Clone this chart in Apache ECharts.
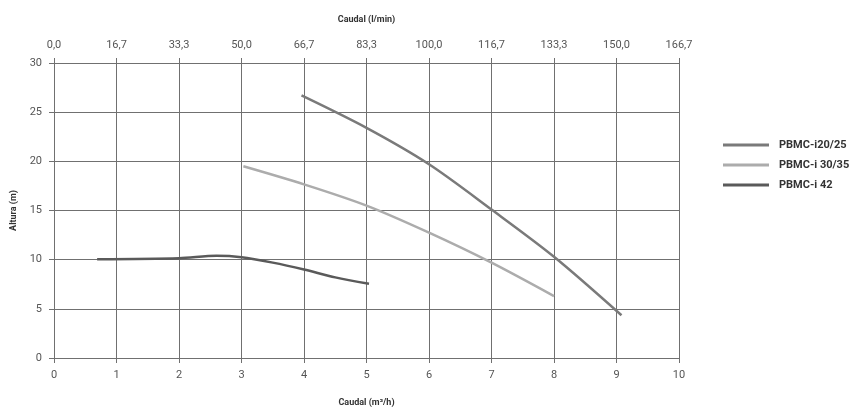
<!DOCTYPE html>
<html>
<head>
<meta charset="utf-8">
<script src="https://cdn.jsdelivr.net/npm/echarts@6/dist/echarts.min.js"></script>
<style>
html,body{margin:0;padding:0;background:#fff;}
#chart{width:859px;height:407px;}
</style>
</head>
<body>
<div id="chart"></div>
<script>
// Data
var seriesNames = ['PBMC-i20/25', 'PBMC-i 30/35', 'PBMC-i 42'];
var pbmc2025 = [[3.96, 26.7], [5, 23.4], [6, 19.7], [7, 15.1], [8, 10.3], [9.08, 4.35]];
var pbmc3035 = [[3.03, 19.5], [4, 17.66], [5, 15.5], [6, 12.75], [7, 9.7], [8.0, 6.3]];
var pbmc42 = [[0.69, 10.05], [2, 10.15], [2.6, 10.4], [3, 10.25], [3.5, 9.7], [4, 9.0], [4.5, 8.2], [5.04, 7.55]];
var topTickLabels = ['0,0', '16,7', '33,3', '50,0', '66,7', '83,3', '100,0', '116,7', '133,3', '150,0', '166,7'];

var chart = echarts.init(document.getElementById('chart'));
var font = 'Roboto, "DejaVu Sans", sans-serif';
var lineCol = '#707070';
var labelStyle = {color: '#555', fontSize: 11, fontFamily: font};
var nameStyle = {color: '#333', fontSize: 9, fontWeight: 'bold', fontFamily: font};

chart.setOption({
  animation: false,
  backgroundColor: '#fff',
  grid: {left: 54, right: 180, top: 63, bottom: 49, outerBoundsMode: 'none', containLabel: false},
  legend: {
    orient: 'vertical',
    left: 718,
    top: 133,
    icon: 'rect',
    itemWidth: 46,
    itemHeight: 3,
    itemGap: 6,
    textStyle: {color: '#333', fontSize: 11, fontWeight: 'bold', fontFamily: font, lineHeight: 14, padding: [0, 0, 0, 5]},
    data: seriesNames
  },
  xAxis: [{
    type: 'value', position: 'bottom', min: 0, max: 10, interval: 1,
    name: 'Caudal (m³/h)', nameLocation: 'middle', nameGap: 40, nameTextStyle: nameStyle,
    axisLine: {show: true, lineStyle: {color: lineCol, width: 1}},
    axisTick: {show: true, length: 5, lineStyle: {color: lineCol}},
    axisLabel: Object.assign({margin: 12}, labelStyle),
    splitLine: {show: true, lineStyle: {color: lineCol, width: 1}}
  }, {
    type: 'value', position: 'top', min: 0, max: 10, interval: 1,
    name: 'Caudal (l/min)', nameLocation: 'middle', nameGap: 39, nameTextStyle: nameStyle,
    axisLine: {show: true, lineStyle: {color: lineCol, width: 1}},
    axisTick: {show: true, length: 5, lineStyle: {color: lineCol}},
    axisLabel: Object.assign({margin: 12, formatter: function (v) { return topTickLabels[Math.round(v)]; }}, labelStyle),
    splitLine: {show: false}
  }],
  yAxis: {
    type: 'value', min: 0, max: 30, interval: 5,
    name: 'Altura (m)', nameLocation: 'middle', nameGap: 36, nameTextStyle: nameStyle,
    axisLine: {show: true, lineStyle: {color: lineCol, width: 1}},
    axisTick: {show: true, length: 5, lineStyle: {color: lineCol}},
    axisLabel: Object.assign({margin: 12}, labelStyle),
    splitLine: {show: true, lineStyle: {color: lineCol, width: 1}}
  },
  series: [{
    name: seriesNames[0], type: 'line', data: pbmc2025, smooth: 0.3,
    symbol: 'none', color: '#7a7a7a', lineStyle: {width: 2.5, color: '#7a7a7a'}
  }, {
    name: seriesNames[1], type: 'line', data: pbmc3035, smooth: 0.3,
    symbol: 'none', color: '#acacac', lineStyle: {width: 2.5, color: '#acacac'}
  }, {
    name: seriesNames[2], type: 'line', data: pbmc42, smooth: 0.3,
    symbol: 'none', color: '#5a5a5a', lineStyle: {width: 2.5, color: '#5a5a5a'}
  }]
});
</script>
</body>
</html>
